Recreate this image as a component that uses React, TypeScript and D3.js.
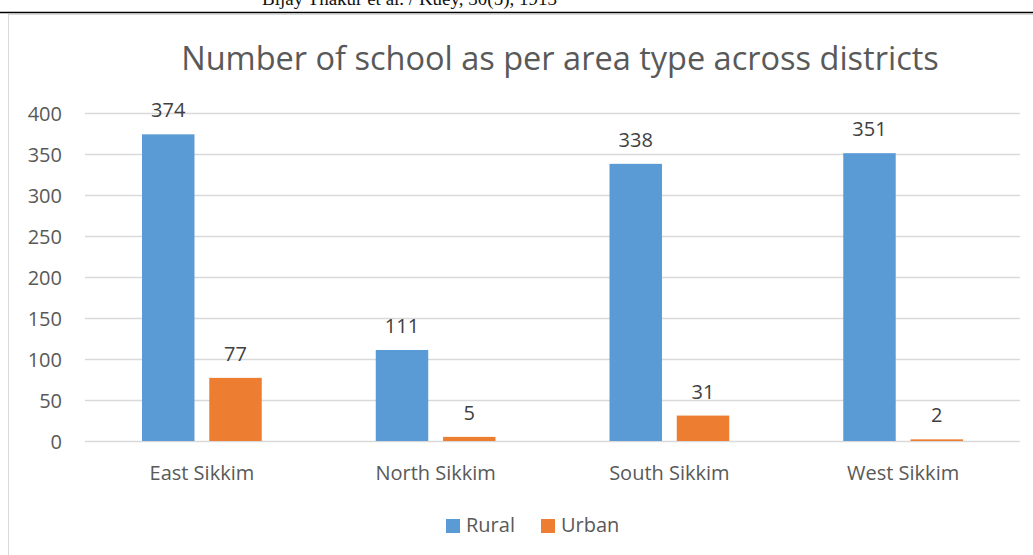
import { useEffect, useRef } from 'react';
import * as d3 from 'd3';

const districts = ['East Sikkim', 'North Sikkim', 'South Sikkim', 'West Sikkim'];
const seriesNames = ['Rural', 'Urban'];
const rural = [374, 111, 338, 351];
const urban = [77, 5, 31, 2];
const yTicks = [0, 50, 100, 150, 200, 250, 300, 350, 400];

const colors = ['#5B9BD5', '#ED7D31'];
const font = '"Open Sans", "Noto Sans", sans-serif';

const App = () => {
  const ref = useRef<SVGSVGElement>(null);

  useEffect(() => {
    const svg = d3.select(ref.current);
    svg.selectAll('*').remove();

    const W = 1033;
    const margin = { top: 113, right: 13, bottom: 114, left: 85 };
    const width = W - margin.left - margin.right;
    const height = 555 - margin.top - margin.bottom;

    // page header, cut off at the top like the scan
    svg.append('text')
      .attr('x', 262).attr('y', 5)
      .attr('font-family', '"Liberation Serif", serif')
      .attr('font-size', 19)
      .attr('fill', '#111')
      .text('Bijay Thakur et al. / Kuey, 30(5), 1913');
    svg.append('line')
      .attr('x1', 0).attr('x2', W).attr('y1', 12.5).attr('y2', 12.5)
      .attr('stroke', '#000').attr('stroke-width', 1.5);

    // chart frame
    svg.append('rect')
      .attr('x', 8.5).attr('y', 14.5).attr('width', W).attr('height', 600)
      .attr('fill', 'white').attr('stroke', '#d9d9d9');

    svg.append('text')
      .attr('x', 560).attr('y', 70)
      .attr('text-anchor', 'middle')
      .attr('font-family', font).attr('font-size', 32.5)
      .attr('fill', '#595959')
      .text('Number of school as per area type across districts');

    const g = svg.append('g').attr('transform', `translate(${margin.left},${margin.top})`);

    const x = d3.scaleBand().domain(districts).range([0, width]);
    const xInner = d3.scaleBand().domain(seriesNames).range([57, x.bandwidth() - 57]).paddingInner(0.22);
    const y = d3.scaleLinear().domain([0, 400]).range([height, 0]);

    g.selectAll('.grid').data(yTicks).enter().append('line')
      .attr('x1', 0).attr('x2', width)
      .attr('y1', d => y(d) + 0.5).attr('y2', d => y(d) + 0.5)
      .attr('stroke', '#d9d9d9').attr('stroke-width', 1.3);

    g.selectAll('.ytick').data(yTicks).enter().append('text')
      .attr('x', -23).attr('y', d => y(d) + 1).attr('dy', '0.35em')
      .attr('text-anchor', 'end')
      .attr('font-family', font).attr('font-size', 20).attr('fill', '#595959')
      .text(d => d);

    const rows = districts.map((d, i) => ({ d, vals: [rural[i], urban[i]] }));
    const grp = g.selectAll('.cat').data(rows).enter().append('g')
      .attr('transform', r => `translate(${x(r.d)},0)`);

    seriesNames.forEach((s, si) => {
      grp.append('rect')
        .attr('x', xInner(s)!)
        .attr('width', xInner.bandwidth())
        .attr('y', r => y(r.vals[si]))
        .attr('height', r => height - y(r.vals[si]))
        .attr('fill', colors[si]);
      grp.append('text')
        .attr('x', xInner(s)! + xInner.bandwidth() / 2)
        .attr('y', r => y(r.vals[si]) - 17)
        .attr('text-anchor', 'middle')
        .attr('font-family', font).attr('font-size', 20).attr('fill', '#404040')
        .text(r => r.vals[si]);
    });

    grp.append('text')
      .attr('x', x.bandwidth() / 2).attr('y', height + 39)
      .attr('text-anchor', 'middle')
      .attr('font-family', font).attr('font-size', 20).attr('fill', '#595959')
      .text(r => r.d);

    // legend
    const legendX = [446, 541];
    seriesNames.forEach((s, i) => {
      svg.append('rect')
        .attr('x', legendX[i]).attr('y', 519).attr('width', 14).attr('height', 14)
        .attr('fill', colors[i]);
      svg.append('text')
        .attr('x', legendX[i] + 20).attr('y', 532)
        .attr('font-family', font).attr('font-size', 20).attr('fill', '#595959')
        .text(s);
    });
  }, []);

  return <svg ref={ref} width={1033} height={555} style={{ display: 'block', position: 'absolute', left: 0, top: 0 }} />;
};

export default App;
